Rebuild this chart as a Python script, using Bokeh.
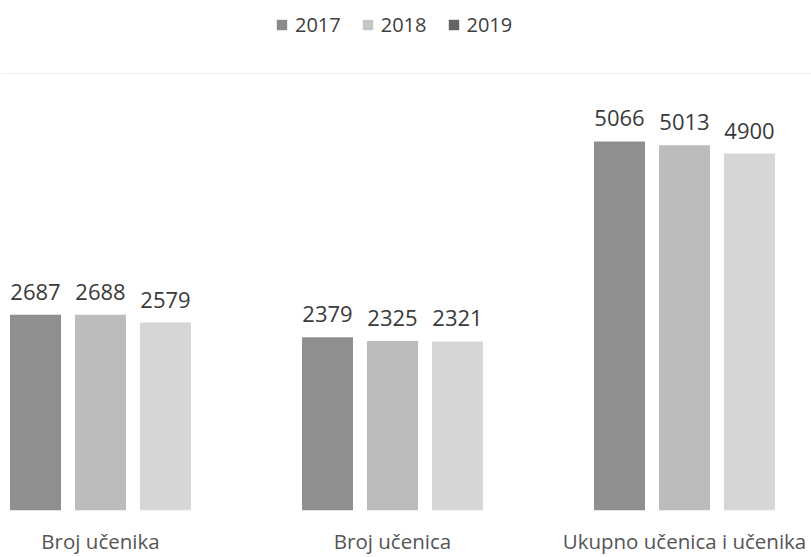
from bokeh.plotting import figure
from bokeh.models import ColumnDataSource, LabelSet, Legend, LegendItem, FixedTicker, Range1d
from bokeh.core.properties import value
from bokeh.embed import file_html
from bokeh.resources import INLINE

categories = ["Broj učenika", "Broj učenica", "Ukupno učenica i učenika"]
years = ["2017", "2018", "2019"]
v2017 = [2687, 2379, 5066]
v2018 = [2688, 2325, 5013]
v2019 = [2579, 2321, 4900]
series = [v2017, v2018, v2019]
bar_colors = ["#8f8f8f", "#bcbcbc", "#d6d6d6"]
legend_colors = ["#8a8a8a", "#c6c6c6", "#646464"]

FONT = "Open Sans"

p = figure(width=811, height=557, output_backend="svg", toolbar_location=None,
           x_range=Range1d(-0.3425, 2.435), y_range=Range1d(0, 7000),
           y_axis_location=None, min_border=0, min_border_left=0, min_border_right=0,
           min_border_top=0, min_border_bottom=0, outline_line_color=None)
p.xgrid.visible = False
p.ygrid.ticker = FixedTicker(ticks=[6000])
p.ygrid.grid_line_color = "#efefef"

offsets = [-0.2226, 0.0, 0.2226]
for vals, off, col in zip(series, offsets, bar_colors):
    src = ColumnDataSource(dict(x=[i + off for i in range(len(categories))], top=vals,
                                label=[str(v) for v in vals]))
    p.vbar(x="x", top="top", width=0.1747, source=src, fill_color=col, line_color=None)
    p.add_layout(LabelSet(x="x", y="top", text="label", source=src, text_align="center",
                          text_baseline="alphabetic", y_offset=15,
                          text_font=value(FONT), text_font_size="22px", text_color="#3a3a3a"))

items = []
for yr, col in zip(years, legend_colors):
    r = p.vbar(x=[-5], top=[1], width=0.1, fill_color=col, line_color=None)
    items.append(LegendItem(label=yr, renderers=[r]))
legend = Legend(items=items, orientation="horizontal", location=(275, 472),
                glyph_width=13, glyph_height=13, label_standoff=7, spacing=20,
                padding=0, margin=0, border_line_color=None, background_fill_alpha=0,
                label_text_font=FONT, label_text_font_size="20px", label_text_color="#404040")
p.add_layout(legend)

ax = p.xaxis[0]
ax.ticker = FixedTicker(ticks=list(range(len(categories))))
ax.major_label_overrides = {i: c for i, c in enumerate(categories)}
ax.axis_line_color = None
ax.major_tick_line_color = None
ax.major_tick_out = 0
ax.major_tick_in = 0
ax.minor_tick_line_color = None
ax.minor_tick_out = 0
ax.major_label_standoff = 16
ax.major_label_text_font = FONT
ax.major_label_text_font_size = "20.5px"
ax.major_label_text_color = "#555555"

open("out.html", "w").write(file_html(p, INLINE))
